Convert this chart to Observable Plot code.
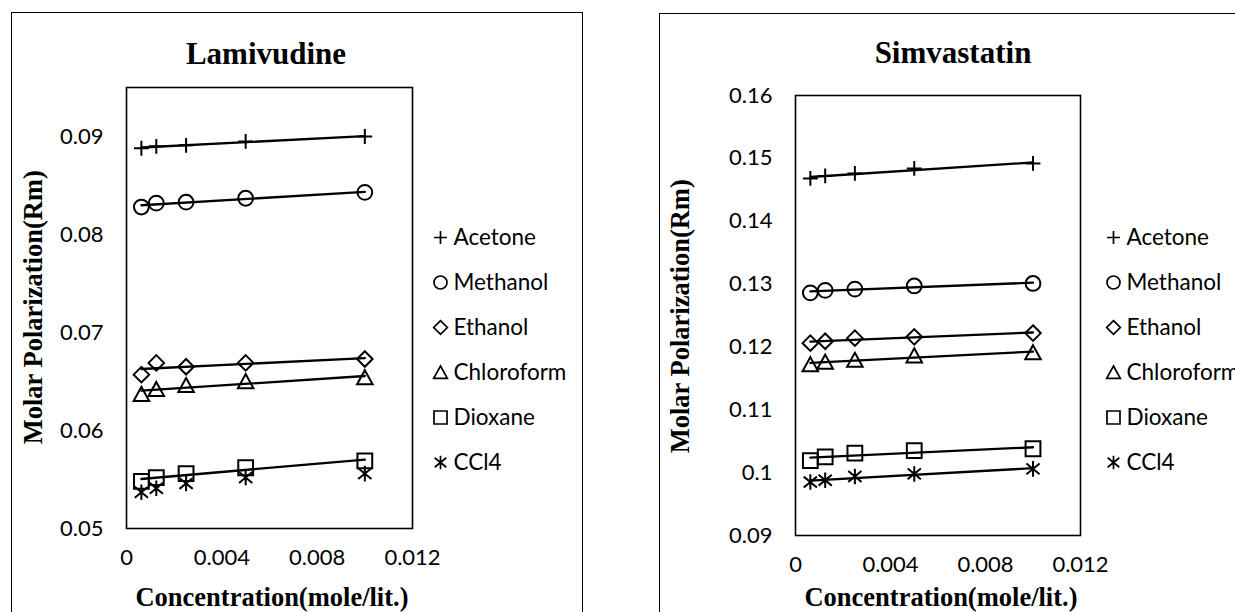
<!DOCTYPE html>
<html><head><meta charset="utf-8">
<script src="https://cdn.jsdelivr.net/npm/d3@7"></script>
<script src="https://cdn.jsdelivr.net/npm/@observablehq/plot@0.6"></script>
<style>
html,body{margin:0;padding:0;background:#fff;}
#root{position:relative;width:1235px;height:612px;overflow:hidden;background:#fff;}
#root svg{position:absolute;left:0;top:0;}
.panel{position:absolute;border:1.5px solid #000;box-sizing:border-box;}
.t{position:absolute;white-space:nowrap;line-height:1;color:#000;font-family:"Liberation Serif","Times New Roman",serif;font-weight:bold;text-align:center;}
</style>
</head><body>
<div id="root"></div>
<script>
// ---- data ----
const concentration = [0.000625, 0.00125, 0.0025, 0.005, 0.01];
const solvents = ["Acetone", "Methanol", "Ethanol", "Chloroform", "Dioxane", "CCl4"];
const xTicks = [0, 0.004, 0.008, 0.012];

const lamAcetone    = [0.0888, 0.0890, 0.0891, 0.0895, 0.0900];
const lamMethanol   = [0.0828, 0.0832, 0.0833, 0.0837, 0.0843];
const lamEthanol    = [0.0657, 0.0669, 0.0665, 0.0669, 0.0673];
const lamChloroform = [0.0637, 0.0642, 0.0646, 0.0650, 0.0654];
const lamDioxane    = [0.0548, 0.0552, 0.0556, 0.0562, 0.0569];
const lamCCl4       = [0.0537, 0.0541, 0.0546, 0.0552, 0.0556];
const lamTicks = [0.05, 0.06, 0.07, 0.08, 0.09];
const lamTrend = ["Acetone", "Methanol", "Ethanol", "Chloroform", "Dioxane"];

const simAcetone    = [0.1468, 0.1472, 0.1476, 0.1484, 0.1492];
const simMethanol   = [0.1286, 0.1290, 0.1292, 0.1297, 0.1301];
const simEthanol    = [0.1206, 0.1209, 0.1214, 0.1216, 0.1222];
const simChloroform = [0.1172, 0.1176, 0.1179, 0.1186, 0.1191];
const simDioxane    = [0.1019, 0.1025, 0.1031, 0.1035, 0.1038];
const simCCl4       = [0.0985, 0.0988, 0.0994, 0.0998, 0.1006];
const simTicks = [0.09, 0.10, 0.11, 0.12, 0.13, 0.14, 0.15, 0.16];
const simTrend = ["Acetone", "Methanol", "Ethanol", "Chloroform", "Dioxane", "CCl4"];

// ---- marker shapes (Excel-like, outline only) ----
const R = s => Math.sqrt(s / Math.PI);
const symPlus = {draw(c, s){const r = R(s); c.moveTo(-r,0); c.lineTo(r,0); c.moveTo(0,-r); c.lineTo(0,r);}};
const symCircle = {draw(c, s){const r = R(s); c.moveTo(r,0); c.arc(0,0,r,0,2*Math.PI); c.closePath();}};
const symDiamond = {draw(c, s){const r = R(s)*1.05; c.moveTo(0,-r); c.lineTo(r,0); c.lineTo(0,r); c.lineTo(-r,0); c.closePath();}};
const symTriangle = {draw(c, s){const r = R(s); c.moveTo(0,-r); c.lineTo(r*1.05,r*0.9); c.lineTo(-r*1.05,r*0.9); c.closePath();}};
const symSquare = {draw(c, s){const r = R(s); c.moveTo(-r,-r); c.lineTo(r,-r); c.lineTo(r,r); c.lineTo(-r,r); c.closePath();}};
const symStar = {draw(c, s){const r = R(s)*1.05; const a = r*0.85, b = r*0.7; c.moveTo(0,-r); c.lineTo(0,r); c.moveTo(-a,-b); c.lineTo(a,b); c.moveTo(-a,b); c.lineTo(a,-b);}};
const symbolOf = {Acetone: symPlus, Methanol: symCircle, Ethanol: symDiamond, Chloroform: symTriangle, Dioxane: symSquare, CCl4: symStar};

function table(series) {
  const rows = [];
  solvents.forEach((s, i) => series[i].forEach((v, j) => rows.push({solvent: s, c: concentration[j], rm: v})));
  return rows;
}
const lamData = table([lamAcetone, lamMethanol, lamEthanol, lamChloroform, lamDioxane, lamCCl4]);
const simData = table([simAcetone, simMethanol, simEthanol, simChloroform, simDioxane, simCCl4]);

const fmt = d => String(+(+d).toFixed(4));
const W = 1235, H = 612;

function panelPlot(data, trend, box, yDomain, yTicks) {
  return Plot.plot({
    width: W, height: H,
    marginLeft: box.l, marginRight: W - box.r, marginTop: box.t, marginBottom: H - box.b,
    style: {background: "transparent", fontFamily: "Lato, 'Open Sans', sans-serif", fontSize: "22px", color: "#000", overflow: "visible"},
    x: {domain: [0, 0.012], ticks: xTicks, tickFormat: fmt, tickSize: 0, tickPadding: 21, label: null},
    y: {domain: yDomain, ticks: yTicks, tickFormat: fmt, tickSize: 0, tickPadding: 23, label: null},
    marks: [
      Plot.frame({stroke: "#000", strokeWidth: 1.6}),
      ...trend.map(s => Plot.linearRegressionY(data.filter(d => d.solvent === s), {x: "c", y: "rm", ci: 0, stroke: "#000", strokeWidth: 2.3})),
      ...solvents.map(s => Plot.dot(data.filter(d => d.solvent === s), {x: "c", y: "rm", symbol: symbolOf[s], r: 7.4, fill: "none", stroke: "#000", strokeWidth: 2}))
    ]
  });
}

function legendPlot(x0) {
  return Plot.plot({
    width: W, height: H,
    marginLeft: x0, marginRight: W - x0 - 150, marginTop: 236, marginBottom: H - 462,
    style: {background: "transparent", fontFamily: "Lato, 'Open Sans', sans-serif", fontSize: "22.5px", color: "#000", overflow: "visible"},
    x: {domain: [0, 1], axis: null},
    y: {type: "point", domain: solvents, axis: null, padding: 0},
    marks: [
      ...solvents.map(s => Plot.dot([s], {x: () => 0, y: d => d, symbol: symbolOf[s], r: 6.5, fill: "none", stroke: "#000", strokeWidth: 1.7})),
      Plot.text(solvents, {x: () => 0, y: d => d, text: d => d, dx: 13, textAnchor: "start", fill: "#000", fontSize: 22.5})
    ]
  });
}

const root = document.getElementById("root");
function addDiv(cls, text, css) {
  const d = document.createElement("div");
  d.className = cls; if (text) d.textContent = text;
  Object.assign(d.style, css);
  root.appendChild(d);
  return d;
}

// panel borders
addDiv("panel", "", {left: "11px", top: "12px", width: "572px", height: "640px"});
addDiv("panel", "", {left: "659px", top: "13px", width: "640px", height: "640px"});

// plots
root.appendChild(panelPlot(lamData, lamTrend, {l: 126, r: 412, t: 87, b: 528}, [0.05, 0.095], lamTicks));
root.appendChild(panelPlot(simData, simTrend, {l: 795, r: 1080, t: 95, b: 535}, [0.09, 0.16], simTicks));
root.appendChild(legendPlot(440));
root.appendChild(legendPlot(1113));

// titles and axis titles
function centered(text, cx, baseline, size) {
  addDiv("t", text, {left: (cx - 300) + "px", width: "600px", top: (baseline - 0.8375 * size) + "px", fontSize: size + "px"});
}
function vertical(text, cx, cy, size) {
  addDiv("t", text, {left: (cx - 300) + "px", width: "600px", top: (cy - size / 2) + "px", height: size + "px", fontSize: size + "px", transform: "rotate(-90deg)", transformOrigin: "50% 50%"});
}
centered("Lamivudine", 266, 64, 31);
centered("Simvastatin", 953, 63, 31);
centered("Concentration(mole/lit.)", 272, 606, 26.5);
centered("Concentration(mole/lit.)", 941, 606, 26.5);
vertical("Molar Polarization(Rm)", 33, 307, 26.5);
vertical("Molar Polarization(Rm)", 680, 316, 26.5);
</script>
</body></html>
